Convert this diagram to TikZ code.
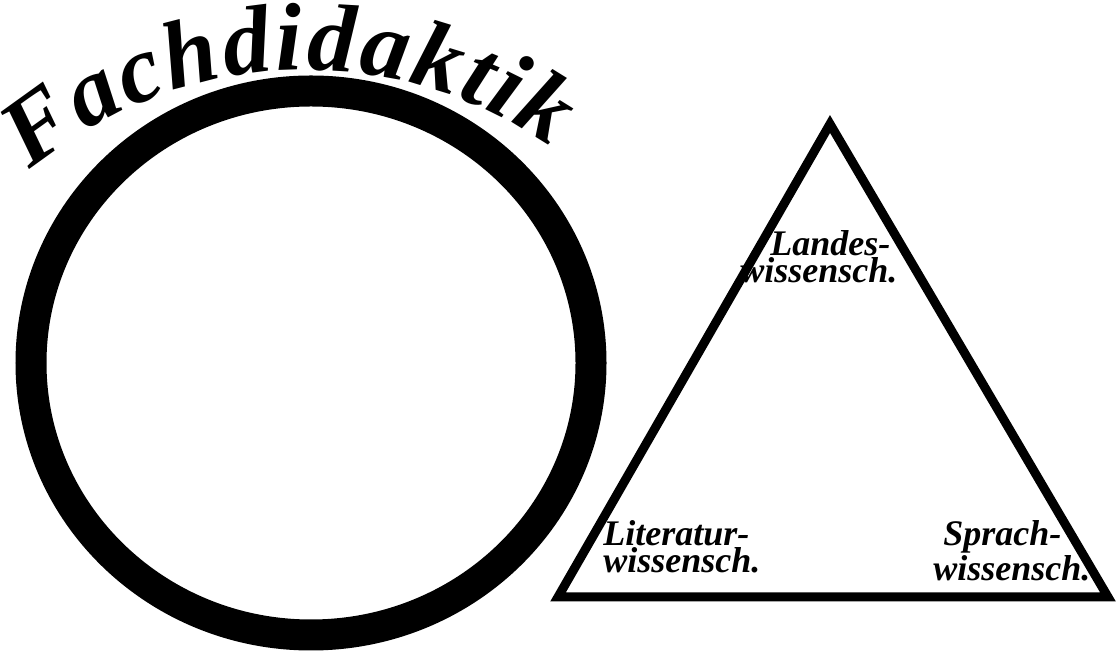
\documentclass[tikz,border=0pt]{standalone}
\usepackage{fontspec}
\newfontfamily\handfont{Liberation Serif}
\usepackage{tikz}
\usetikzlibrary{shapes.geometric,decorations.text}

\begin{document}
\begin{tikzpicture}[
  x=0.5pt, y=0.5pt,
  ring/.style={draw, ellipse, line width=15.5pt, inner sep=0pt,
    minimum width=280pt, minimum height=272pt},
  lbl/.style={align=left, anchor=north west, inner sep=0pt,
    font=\handfont\fontsize{18}{13.5}\selectfont\bfseries\itshape},
  edge/.style={line width=4.5pt}
]
\useasboundingbox (0,0) rectangle (1119,658);
% ring with the curved title
\node[ring] (fach) at (311,295) {};
\coordinate (arcc) at (305,160);
\path[decorate, decoration={text along path, text align=fit to path,
    text={|\handfont\fontsize{48}{48}\selectfont\bfseries\itshape|Fachdidaktik}}]
  (arcc) ++(130:428) arc[start angle=130, end angle=55, radius=428];
% triangle
\coordinate (tt) at (830,534);
\coordinate (tl) at (558,61);
\coordinate (tr) at (1108,61);
\draw[edge] (tt)--(tl)--(tr)--cycle;
\node[lbl] (landes) at (740,428) {\hspace*{15pt}Landes-\\wissensch.};
\node[lbl] (lit) at (603,138) {Literatur-\\wissensch.};
\node[lbl] (sprach) at (933,138) {\hspace*{5pt}Sprach-\\wissensch.};
\end{tikzpicture}
\end{document}
